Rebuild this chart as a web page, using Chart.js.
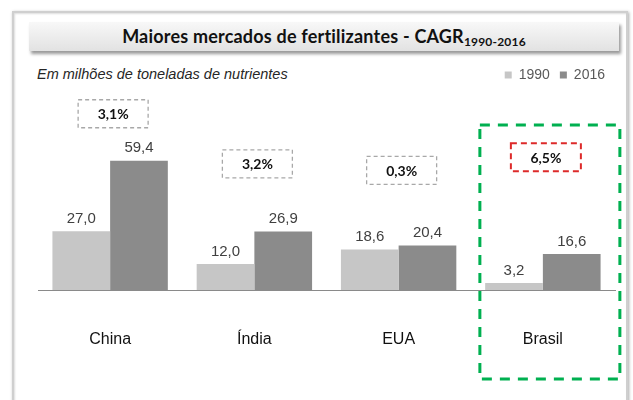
<!DOCTYPE html>
<html>
<head>
<meta charset="utf-8">
<script src="https://cdn.jsdelivr.net/npm/chart.js@4.4.1/dist/chart.umd.min.js"></script>
<style>
  html, body { margin: 0; padding: 0; background: #fff; }
  body { width: 633px; height: 400px; position: relative; overflow: hidden; }
  #frame {
    position: absolute; left: 12px; top: 11px; width: 612px; height: 420px;
    border: 2px solid #cfcfcf; box-shadow: 1px 1px 3px #aaa, inset 1px 1px 2px #ddd;
  }
  #title {
    position: absolute; left: 29px; top: 22px; width: 590px; height: 29px;
    background: linear-gradient(#f8f8f8, #e2e2e2);
    box-shadow: 2px 3px 3px #9a9a9a;
    font: bold 18px Lato, "Open Sans", sans-serif; color: #111;
    text-align: center; line-height: 29px; letter-spacing: 0.2px;
  }
  #title sub { font-size: 12px; vertical-align: -3px; line-height: 0; }
  #subtitle {
    position: absolute; left: 37px; top: 66px;
    font: italic 14.5px "Liberation Sans", Arial, sans-serif; color: #262626;
  }
  #wrap { position: absolute; left: 0; top: 0; width: 633px; height: 400px; }
</style>
</head>
<body>
<div id="frame"></div>
<div id="title">Maiores mercados de fertilizantes - CAGR<sub>1990-2016</sub></div>
<div id="subtitle">Em milhões de toneladas de nutrientes</div>
<div id="wrap"><canvas id="chart" width="633" height="400"></canvas></div>
<script>
// dados
const categories = ['China', 'Índia', 'EUA', 'Brasil'];
const years = ['1990', '2016'];
const values1990 = [27.0, 12.0, 18.6, 3.2];
const values2016 = [59.4, 26.9, 20.4, 16.6];
const cagrLabels = ['3,1%', '3,2%', '0,3%', '6,5%'];

const COLOR_1990 = '#c6c6c6';
const COLOR_2016 = '#8b8b8b';
const TEXT = '#404040';

const fmt = v => v.toFixed(1).replace('.', ',');

// rótulos de valor acima das barras
const valueLabels = {
  id: 'valueLabels',
  afterDatasetsDraw(chart) {
    const ctx = chart.ctx;
    ctx.save();
    ctx.font = '15px "Liberation Sans", Arial, sans-serif';
    ctx.fillStyle = TEXT;
    ctx.textAlign = 'center';
    ctx.textBaseline = 'bottom';
    chart.data.datasets.forEach((ds, i) => {
      chart.getDatasetMeta(i).data.forEach((bar, j) => {
        ctx.fillText(fmt(ds.data[j]), bar.x, bar.y - 5);
      });
    });
    ctx.restore();
  }
};

// caixas CAGR + destaque do Brasil
const cagrBoxes = {
  id: 'cagrBoxes',
  afterDraw(chart, args, opts) {
    const ctx = chart.ctx;
    const x = chart.scales.x, y = chart.scales.y;
    ctx.save();
    cagrLabels.forEach((label, i) => {
      const cx = x.getPixelForValue(i) + 3;
      const cy = y.getPixelForValue(opts.levels[i]);
      const hl = i === opts.highlight;
      ctx.setLineDash(hl ? [6, 4] : [4, 3]);
      ctx.lineWidth = hl ? 2 : 1.3;
      ctx.strokeStyle = hl ? '#dd2a2a' : '#a8a8a8';
      ctx.strokeRect(cx - 35, cy - 14, 70, 28);
      ctx.setLineDash([]);
      ctx.font = 'bold 14px Lato, "Open Sans", sans-serif';
      ctx.fillStyle = '#111';
      ctx.textAlign = 'center';
      ctx.textBaseline = 'middle';
      ctx.fillText(label, cx, cy + 1);
    });
    // caixa verde tracejada
    const bx = x.getPixelForValue(opts.highlight);
    ctx.setLineDash([10, 8]);
    ctx.lineWidth = 3;
    ctx.strokeStyle = '#00b050';
    ctx.strokeRect(bx - 63, 125, 140, 254);
    ctx.restore();
  }
};

new Chart(document.getElementById('chart'), {
  type: 'bar',
  data: {
    labels: categories,
    datasets: [
      { label: years[0], data: values1990, backgroundColor: COLOR_1990 },
      { label: years[1], data: values2016, backgroundColor: COLOR_2016 }
    ]
  },
  options: {
    responsive: false,
    animation: false,
    layout: { padding: { left: 38, right: 18, top: 58, bottom: 0 } },
    datasets: { bar: { categoryPercentage: 0.8, barPercentage: 1.0, borderWidth: 0 } },
    plugins: {
      legend: {
        position: 'top',
        align: 'end',
        labels: {
          boxWidth: 7, boxHeight: 7, padding: 10,
          color: '#595959',
          font: { family: '"Liberation Sans", Arial, sans-serif', size: 14 }
        }
      },
      tooltip: { enabled: false },
      cagrBoxes: { levels: [81, 58, 55, 61], highlight: 3 }
    },
    scales: {
      x: {
        grid: { display: false, drawTicks: false },
        border: { display: true, color: '#8a8a8a', width: 1 },
        ticks: {
          color: '#111', padding: 40,
          font: { family: '"Liberation Sans", Arial, sans-serif', size: 16 }
        },
        afterFit: s => { s.height = 110; }
      },
      y: { display: false, min: 0, max: 91 }
    }
  },
  plugins: [valueLabels, cagrBoxes]
});
</script>
</body>
</html>
